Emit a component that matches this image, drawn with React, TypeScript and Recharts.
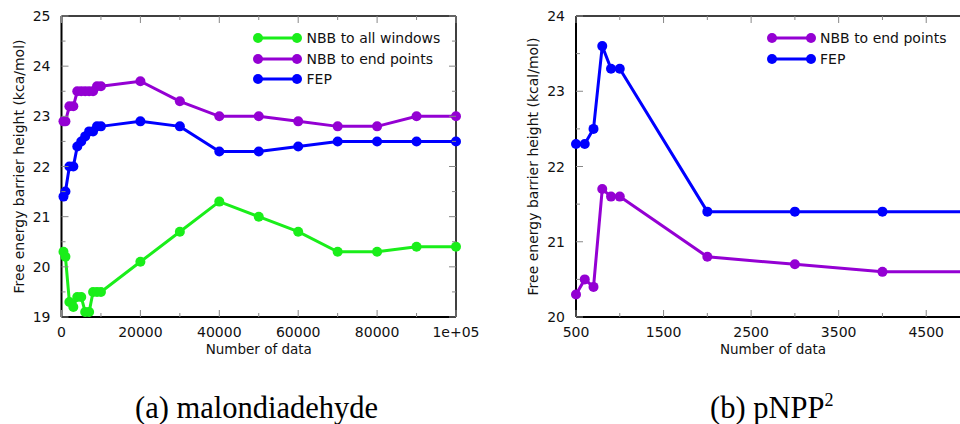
import * as React from "react";
import { LineChart, Line, XAxis, YAxis, Legend, Label } from "recharts";

// (a) malondiadehyde
const A_N = [500, 1000, 2000, 3000, 4000, 5000, 6000, 7000, 8000, 9000, 10000, 20000, 30000, 40000, 50000, 60000, 70000, 80000, 90000, 100000];
const A_ALL = [20.3, 20.2, 19.3, 19.2, 19.4, 19.4, 19.1, 19.1, 19.5, 19.5, 19.5, 20.1, 20.7, 21.3, 21.0, 20.7, 20.3, 20.3, 20.4, 20.4];
const A_END = [22.9, 22.9, 23.2, 23.2, 23.5, 23.5, 23.5, 23.5, 23.5, 23.6, 23.6, 23.7, 23.3, 23.0, 23.0, 22.9, 22.8, 22.8, 23.0, 23.0];
const A_FEP = [21.4, 21.5, 22.0, 22.0, 22.4, 22.5, 22.6, 22.7, 22.7, 22.8, 22.8, 22.9, 22.8, 22.3, 22.3, 22.4, 22.5, 22.5, 22.5, 22.5];

const A_XTICKS = [0, 10000, 20000, 30000, 40000, 50000, 60000, 70000, 80000, 90000, 100000];
const A_XLABELS = ["0", "", "20000", "", "40000", "", "60000", "", "80000", "", "1e+05"];
const A_YTICKS = [19, 19.5, 20, 20.5, 21, 21.5, 22, 22.5, 23, 23.5, 24, 24.5, 25];

// (b) pNPP2
const B_N = [500, 600, 700, 800, 900, 1000, 2000, 3000, 4000, 5000];
const B_END = [20.3, 20.5, 20.4, 21.7, 21.6, 21.6, 20.8, 20.7, 20.6, 20.6];
const B_FEP = [22.3, 22.3, 22.5, 23.6, 23.3, 23.3, 21.4, 21.4, 21.4, 21.4];

const B_XTICKS = [500, 1000, 1500, 2000, 2500, 3000, 3500, 4000, 4500, 5000];
const B_XLABELS = ["500", "", "1500", "", "2500", "", "3500", "", "4500", ""];
const B_YTICKS = [20, 20.5, 21, 21.5, 22, 22.5, 23, 23.5, 24];

const GREEN = "#1aee1a";
const PURPLE = "#9400d3";
const BLUE = "#0000ff";
const FONT = "'DejaVu Sans', sans-serif";

type Box = { left: number; right: number; top: number; bottom: number };

function makeXTick(box: Box, ticks: number[], labels: string[]) {
  return (p: any) => {
    const i = ticks.indexOf(p.payload.value);
    const label = labels[i] || "";
    const len = label ? 7 : 4;
    return (
      <g>
        <line x1={p.x} x2={p.x} y1={box.bottom} y2={box.bottom - len} stroke="#888" />
        <line x1={p.x} x2={p.x} y1={box.top} y2={box.top + len} stroke="#888" />
        {label && (
          <text x={p.x} y={box.bottom + 20} textAnchor="middle" fontSize={14} fontFamily={FONT} fill="#111">
            {label}
          </text>
        )}
      </g>
    );
  };
}

function makeYTick(box: Box) {
  return (p: any) => {
    const v = p.payload.value;
    const major = Number.isInteger(v);
    const len = major ? 7 : 4;
    return (
      <g>
        <line x1={box.left} x2={box.left + len} y1={p.y} y2={p.y} stroke="#888" />
        <line x1={box.right} x2={box.right - len} y1={p.y} y2={p.y} stroke="#888" />
        {major && (
          <text x={box.left - 11} y={p.y + 5} textAnchor="end" fontSize={14} fontFamily={FONT} fill="#111">
            {v}
          </text>
        )}
      </g>
    );
  };
}

function YTitle({ x, cy, text }: { x: number; cy: number; text: string }) {
  return (
    <text
      x={x}
      y={cy}
      transform={`rotate(-90, ${x}, ${cy})`}
      textAnchor="middle"
      fontSize={14}
      fontFamily={FONT}
      fill="#111"
    >
      {text}
    </text>
  );
}

function XTitle(p: any) {
  return (
    <text
      x={p.viewBox.x + p.viewBox.width / 2}
      y={p.viewBox.y + 37}
      textAnchor="middle"
      fontSize={13.5}
      fontFamily={FONT}
      fill="#111"
    >
      Number of data
    </text>
  );
}

function LegendBox({ items }: { items: { name: string; color: string }[] }) {
  return (
    <div style={{ fontFamily: FONT, fontSize: 14, color: "#111" }}>
      {items.map((it) => (
        <div key={it.name} style={{ display: "flex", alignItems: "center", height: 20.5 }}>
          <svg width={54} height={14} style={{ display: "block" }}>
            <line x1={8} x2={47} y1={7} y2={7} stroke={it.color} strokeWidth={3} />
            <circle cx={8} cy={7} r={5} fill={it.color} />
            <circle cx={47} cy={7} r={5} fill={it.color} />
          </svg>
          <span style={{ marginLeft: 2.5, lineHeight: "14px" }}>{it.name}</span>
        </div>
      ))}
    </div>
  );
}

const dotStyle = (c: string) => ({ r: 5, fill: c, stroke: c, strokeWidth: 0 });
const frameAxis = { stroke: "#000", strokeWidth: 1.5 };
const mainAxis = { stroke: "#000", strokeWidth: 2 };

function ChartA() {
  const data = A_N.map((n, i) => ({ n, all: A_ALL[i], end: A_END[i], fep: A_FEP[i] }));
  const box: Box = { left: 61.5, right: 456, top: 16, bottom: 317 };
  return (
    <LineChart width={490} height={370} data={data} margin={{ top: 15, right: 33, bottom: 8, left: 0 }}>
      <XAxis xAxisId="top" orientation="top" dataKey="n" type="number" domain={[0, 100000]} height={1} tick={false} tickLine={false} axisLine={frameAxis} />
      <YAxis yAxisId="right" orientation="right" type="number" domain={[19, 25]} width={1} tick={false} tickLine={false} axisLine={frameAxis} />
      <XAxis
        dataKey="n"
        type="number"
        domain={[0, 100000]}
        ticks={A_XTICKS}
        interval={0}
        height={45}
        tickLine={false}
        axisLine={mainAxis}
        tick={makeXTick(box, A_XTICKS, A_XLABELS)}
      >
        <Label content={XTitle} />
      </XAxis>
      <YAxis
        type="number"
        domain={[19, 25]}
        ticks={A_YTICKS}
        interval={0}
        width={61.5}
        tickLine={false}
        axisLine={mainAxis}
        tick={makeYTick(box)}
      >
        <Label content={() => <YTitle x={23.5} cy={166.5} text="Free energy barrier height (kca/mol)" />} />
      </YAxis>
      <Legend
        layout="horizontal"
        verticalAlign="middle"
        align="center"
        wrapperStyle={{ left: 250, top: 28, width: 210, height: 62 }}
        content={() => (
          <LegendBox
            items={[
              { name: "NBB to all windows", color: GREEN },
              { name: "NBB to end points", color: PURPLE },
              { name: "FEP", color: BLUE },
            ]}
          />
        )}
      />
      <Line dataKey="all" stroke={GREEN} strokeWidth={3} dot={dotStyle(GREEN)} activeDot={false} isAnimationActive={false} />
      <Line dataKey="end" stroke={PURPLE} strokeWidth={3} dot={dotStyle(PURPLE)} activeDot={false} isAnimationActive={false} />
      <Line dataKey="fep" stroke={BLUE} strokeWidth={3} dot={dotStyle(BLUE)} activeDot={false} isAnimationActive={false} />
    </LineChart>
  );
}

function ChartB() {
  const data = B_N.map((n, i) => ({ n, end: B_END[i], fep: B_FEP[i] }));
  const box: Box = { left: 76, right: 470, top: 16, bottom: 317 };
  return (
    <LineChart width={474} height={370} data={data} margin={{ top: 15, right: 3, bottom: 8, left: 0 }}>
      <XAxis xAxisId="top" orientation="top" dataKey="n" type="number" domain={[500, 5000]} height={1} tick={false} tickLine={false} axisLine={frameAxis} />
      <YAxis yAxisId="right" orientation="right" type="number" domain={[20, 24]} width={1} tick={false} tickLine={false} axisLine={frameAxis} />
      <XAxis
        dataKey="n"
        type="number"
        domain={[500, 5000]}
        ticks={B_XTICKS}
        interval={0}
        height={45}
        tickLine={false}
        axisLine={mainAxis}
        tick={makeXTick(box, B_XTICKS, B_XLABELS)}
      >
        <Label content={XTitle} />
      </XAxis>
      <YAxis
        type="number"
        domain={[20, 24]}
        ticks={B_YTICKS}
        interval={0}
        width={76}
        tickLine={false}
        axisLine={mainAxis}
        tick={makeYTick(box)}
      >
        <Label content={() => <YTitle x={37.5} cy={166.5} text="Free energy barrier height (kcal/mol)" />} />
      </YAxis>
      <Legend
        layout="horizontal"
        verticalAlign="middle"
        align="center"
        wrapperStyle={{ left: 263.5, top: 28, width: 200, height: 42 }}
        content={() => (
          <LegendBox
            items={[
              { name: "NBB to end points", color: PURPLE },
              { name: "FEP", color: BLUE },
            ]}
          />
        )}
      />
      <Line dataKey="end" stroke={PURPLE} strokeWidth={3} dot={dotStyle(PURPLE)} activeDot={false} isAnimationActive={false} />
      <Line dataKey="fep" stroke={BLUE} strokeWidth={3} dot={dotStyle(BLUE)} activeDot={false} isAnimationActive={false} />
    </LineChart>
  );
}

const captionStyle: React.CSSProperties = {
  position: "absolute",
  fontFamily: "'Liberation Serif', 'Times New Roman', serif",
  fontSize: 30.5,
  lineHeight: "30.5px",
  height: 30.5,
  color: "#000",
  whiteSpace: "nowrap",
};

export default function App() {
  return (
    <div
      style={{
        position: "fixed",
        left: 0,
        top: 0,
        width: 960,
        height: 424,
        overflow: "hidden",
        background: "#fff",
      }}
    >
      <div style={{ position: "absolute", left: 0, top: 0 }}>
        <ChartA />
      </div>
      <div style={{ position: "absolute", left: 500, top: 0 }}>
        <ChartB />
      </div>
      <div style={{ ...captionStyle, left: 135, top: 392.5 }}>(a) malondiadehyde</div>
      <div style={{ ...captionStyle, left: 710, top: 392.5 }}>
        (b) pNPP
        <span style={{ fontSize: 18, position: "relative", top: -12 }}>2</span>
      </div>
    </div>
  );
}
